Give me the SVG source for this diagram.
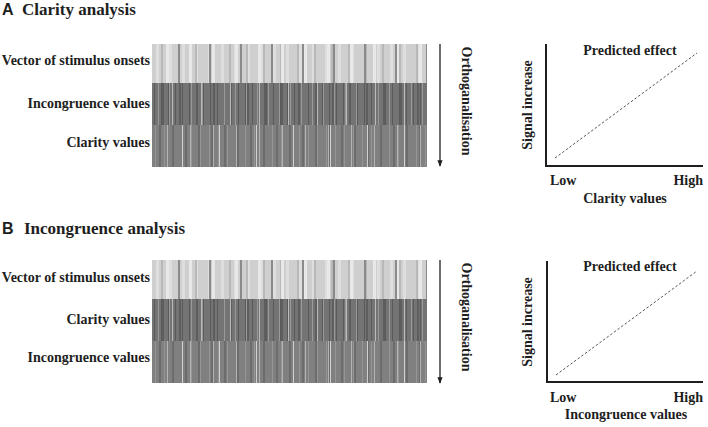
<svg xmlns="http://www.w3.org/2000/svg" xmlns:xlink="http://www.w3.org/1999/xlink" width="708" height="427" viewBox="0 0 708 427">
<style>
.t{font-family:"Liberation Serif","Times New Roman",serif;font-weight:bold;fill:#1e1e1e}
.lab{font-size:14px}
.ttl{font-size:17px}
.let{font-family:"Liberation Sans",Arial,sans-serif;font-weight:bold;font-size:16px;fill:#1e1e1e}
.ax{stroke:#1e1e1e;stroke-width:2;fill:none}
.dash{stroke:#555;stroke-width:1;stroke-dasharray:2.5 2;fill:none}
.arr{stroke:#1e1e1e;stroke-width:1.3;fill:none}
</style>
<defs>
<marker id="ah" viewBox="0 0 10 10" refX="9" refY="5" markerWidth="5" markerHeight="5" orient="auto"><path d="M0,1 L10,5 L0,9 z" fill="#1e1e1e"/></marker>
<pattern id="p1a" patternUnits="userSpaceOnUse" x="0" y="0" width="13" height="200"><rect x="4" width="3" height="200" fill="#dedede"/></pattern>
<pattern id="p1b" patternUnits="userSpaceOnUse" x="0" y="0" width="17" height="200"><rect x="9" width="2" height="200" fill="#b8b8b8"/></pattern>
<pattern id="p1c" patternUnits="userSpaceOnUse" x="0" y="0" width="23" height="200"><rect x="14" width="3" height="200" fill="#e8e8e8"/></pattern>
<pattern id="p1d" patternUnits="userSpaceOnUse" x="0" y="0" width="31" height="200"><rect x="26" width="2" height="200" fill="#8a8a8a"/></pattern>
<pattern id="p2a" patternUnits="userSpaceOnUse" x="0" y="0" width="7" height="200"><rect x="2" width="1" height="200" fill="#5a5a5a"/></pattern>
<pattern id="p2b" patternUnits="userSpaceOnUse" x="0" y="0" width="11" height="200"><rect x="6" width="1" height="200" fill="#9a9a9a"/></pattern>
<pattern id="p2c" patternUnits="userSpaceOnUse" x="0" y="0" width="17" height="200"><rect x="10" width="2" height="200" fill="#5e5e5e"/></pattern>
<pattern id="p2d" patternUnits="userSpaceOnUse" x="0" y="0" width="29" height="200"><rect x="20" width="1" height="200" fill="#bbbbbb"/></pattern>
<pattern id="p3a" patternUnits="userSpaceOnUse" x="0" y="0" width="9" height="200"><rect x="3" width="1" height="200" fill="#959595"/></pattern>
<pattern id="p3b" patternUnits="userSpaceOnUse" x="0" y="0" width="13" height="200"><rect x="7" width="2" height="200" fill="#6c6c6c"/></pattern>
<pattern id="p3c" patternUnits="userSpaceOnUse" x="0" y="0" width="23" height="200"><rect x="15" width="1" height="200" fill="#b4b4b4"/></pattern>
<pattern id="p3d" patternUnits="userSpaceOnUse" x="0" y="0" width="37" height="200"><rect x="30" width="1" height="200" fill="#d0d0d0"/></pattern>
<g id="strip">
<rect x="0" y="0" width="275" height="39" fill="#cfcfcf"/>
<rect x="0" y="0" width="275" height="39" fill="url(#p1a)"/>
<rect x="0" y="0" width="275" height="39" fill="url(#p1b)"/>
<rect x="0" y="0" width="275" height="39" fill="url(#p1c)"/>
<rect x="0" y="0" width="275" height="39" fill="url(#p1d)"/>
<rect x="0" y="39" width="275" height="42" fill="#747474"/>
<rect x="0" y="39" width="275" height="42" fill="url(#p2a)"/>
<rect x="0" y="39" width="275" height="42" fill="url(#p2b)"/>
<rect x="0" y="39" width="275" height="42" fill="url(#p2c)"/>
<rect x="0" y="39" width="275" height="42" fill="url(#p2d)"/>
<rect x="0" y="81" width="275" height="42" fill="#808080"/>
<rect x="0" y="81" width="275" height="42" fill="url(#p3a)"/>
<rect x="0" y="81" width="275" height="42" fill="url(#p3b)"/>
<rect x="0" y="81" width="275" height="42" fill="url(#p3c)"/>
<rect x="0" y="81" width="275" height="42" fill="url(#p3d)"/>
</g>
</defs>
<rect width="708" height="427" fill="#ffffff"/>

<g id="titleA"><text class="let" x="2" y="15">A</text><text class="t ttl" x="22" y="15">Clarity analysis</text></g>
<g id="labelsA">
<text class="t lab" x="150" y="65" text-anchor="end">Vector of stimulus onsets</text>
<text class="t lab" x="150" y="108" text-anchor="end">Incongruence values</text>
<text class="t lab" x="150" y="147" text-anchor="end">Clarity values</text>
</g>
<g id="matrixA"><use xlink:href="#strip" x="152" y="44"/></g>
<g id="orthA"><text class="t lab" transform="translate(462,101) rotate(90)" text-anchor="middle">Orthoganalisation</text></g>
<g id="plotA">
<path class="ax" d="M546,44 V166 H703"/>
<path class="dash" d="M555,158 L697,53"/>
<text class="t lab" x="630" y="55" text-anchor="middle">Predicted effect</text>
<text class="t lab" transform="translate(532,105) rotate(-90)" text-anchor="middle">Signal increase</text>
<text class="t lab" x="550" y="185">Low</text>
<text class="t lab" x="703" y="185" text-anchor="end">High</text>
<text class="t lab" x="625" y="203" text-anchor="middle">Clarity values</text>
</g>

<g id="titleB"><text class="let" x="2" y="234">B</text><text class="t ttl" x="24" y="234">Incongruence analysis</text></g>
<g id="labelsB">
<text class="t lab" x="150" y="282" text-anchor="end">Vector of stimulus onsets</text>
<text class="t lab" x="150" y="324" text-anchor="end">Clarity values</text>
<text class="t lab" x="150" y="362" text-anchor="end">Incongruence values</text>
</g>
<g id="matrixB"><use xlink:href="#strip" x="152" y="260"/></g>
<g id="orthB"><text class="t lab" transform="translate(462,317) rotate(90)" text-anchor="middle">Orthoganalisation</text></g>
<g id="plotB">
<path class="ax" d="M547,261 V382 H703"/>
<path class="dash" d="M556,375 L697,271"/>
<text class="t lab" x="630" y="271" text-anchor="middle">Predicted effect</text>
<text class="t lab" transform="translate(532,322) rotate(-90)" text-anchor="middle">Signal increase</text>
<text class="t lab" x="550" y="402">Low</text>
<text class="t lab" x="703" y="402" text-anchor="end">High</text>
<text class="t lab" x="626" y="419" text-anchor="middle">Incongruence values</text>
</g>

<g id="connectors">
<line class="arr" x1="440" y1="44" x2="440" y2="166" marker-end="url(#ah)"/>
<line class="arr" x1="440" y1="260" x2="440" y2="383" marker-end="url(#ah)"/>
</g>
</svg>
